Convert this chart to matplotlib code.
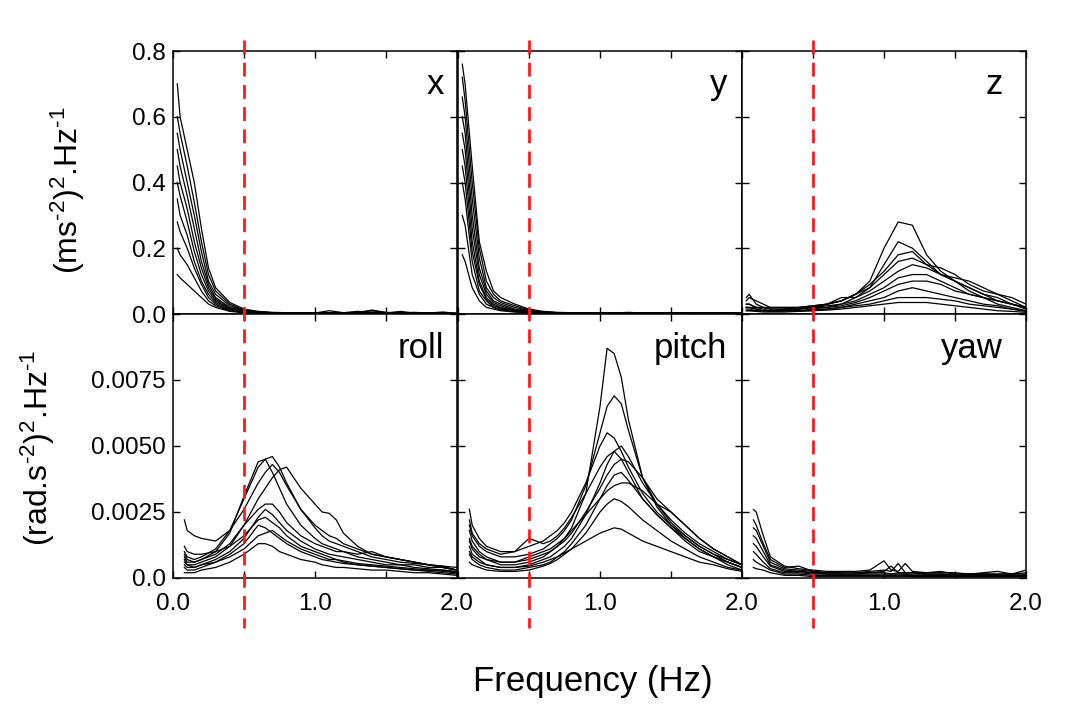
import matplotlib
matplotlib.use("Agg")
import matplotlib.pyplot as plt
from matplotlib import transforms
import numpy as np

plt.rcParams['font.family'] = ['Liberation Sans', 'DejaVu Sans']
plt.rcParams['mathtext.fontset'] = 'custom'
plt.rcParams['mathtext.rm'] = 'Liberation Sans'
plt.rcParams['mathtext.default'] = 'regular'

# frequency grids (Hz)
f_lin = [0.03, 0.05, 0.1, 0.15, 0.2, 0.25, 0.3, 0.4, 0.5, 0.6, 0.7, 0.8, 0.9, 1.0,
         1.1, 1.2, 1.3, 1.4, 1.5, 1.6, 1.7, 1.8, 1.9, 2.0]
f_rot = [0.08, 0.1, 0.15, 0.2, 0.3, 0.4, 0.5, 0.6, 0.65, 0.7, 0.75, 0.8, 0.9, 1.0,
         1.05, 1.1, 1.15, 1.2, 1.3, 1.4, 1.5, 1.6, 1.7, 1.8, 1.9, 2.0]

# linear PSD, (ms-2)^2/Hz
psd_x = [
    [0.70, 0.60, 0.50, 0.40, 0.26, 0.14, 0.08, 0.035, 0.015, 0.008, 0.005, 0.004, 0.004, 0.003, 0.004, 0.003, 0.006, 0.010, 0.004, 0.003, 0.005, 0.003, 0.004, 0.002],
    [0.60, 0.55, 0.45, 0.34, 0.22, 0.12, 0.07, 0.030, 0.012, 0.006, 0.004, 0.004, 0.003, 0.003, 0.010, 0.004, 0.003, 0.012, 0.005, 0.003, 0.004, 0.003, 0.002, 0.002],
    [0.55, 0.50, 0.40, 0.30, 0.19, 0.10, 0.06, 0.025, 0.010, 0.006, 0.004, 0.003, 0.003, 0.003, 0.003, 0.004, 0.008, 0.004, 0.003, 0.008, 0.003, 0.003, 0.006, 0.002],
    [0.50, 0.45, 0.36, 0.26, 0.16, 0.09, 0.05, 0.020, 0.010, 0.005, 0.004, 0.003, 0.003, 0.002, 0.003, 0.003, 0.004, 0.006, 0.003, 0.003, 0.002, 0.003, 0.002, 0.002],
    [0.45, 0.40, 0.32, 0.22, 0.14, 0.08, 0.045, 0.018, 0.008, 0.005, 0.003, 0.003, 0.002, 0.002, 0.002, 0.003, 0.003, 0.004, 0.003, 0.002, 0.002, 0.002, 0.002, 0.001],
    [0.40, 0.36, 0.28, 0.19, 0.12, 0.07, 0.04, 0.015, 0.008, 0.004, 0.003, 0.002, 0.002, 0.002, 0.002, 0.002, 0.003, 0.003, 0.002, 0.002, 0.002, 0.002, 0.001, 0.001],
    [0.35, 0.30, 0.24, 0.16, 0.10, 0.06, 0.035, 0.012, 0.006, 0.004, 0.003, 0.002, 0.002, 0.002, 0.002, 0.002, 0.002, 0.003, 0.002, 0.002, 0.002, 0.001, 0.001, 0.001],
    [0.28, 0.25, 0.20, 0.14, 0.09, 0.05, 0.03, 0.010, 0.005, 0.003, 0.002, 0.002, 0.002, 0.001, 0.002, 0.002, 0.002, 0.002, 0.002, 0.001, 0.001, 0.001, 0.001, 0.001],
    [0.20, 0.18, 0.15, 0.11, 0.07, 0.04, 0.025, 0.010, 0.005, 0.003, 0.002, 0.002, 0.001, 0.001, 0.001, 0.001, 0.002, 0.002, 0.001, 0.001, 0.001, 0.001, 0.001, 0.001],
    [0.12, 0.11, 0.09, 0.07, 0.05, 0.03, 0.02, 0.008, 0.004, 0.002, 0.002, 0.001, 0.001, 0.001, 0.001, 0.001, 0.001, 0.001, 0.001, 0.001, 0.001, 0.001, 0.001, 0.001],
]
psd_y = [
    [0.76, 0.70, 0.45, 0.22, 0.13, 0.07, 0.05, 0.030, 0.015, 0.008, 0.005, 0.004, 0.004, 0.003, 0.004, 0.003, 0.003, 0.004, 0.003, 0.003, 0.003, 0.003, 0.004, 0.003],
    [0.72, 0.65, 0.40, 0.20, 0.10, 0.06, 0.04, 0.025, 0.012, 0.006, 0.004, 0.004, 0.003, 0.003, 0.003, 0.005, 0.003, 0.003, 0.003, 0.004, 0.003, 0.003, 0.003, 0.003],
    [0.66, 0.60, 0.35, 0.17, 0.08, 0.05, 0.035, 0.020, 0.010, 0.006, 0.004, 0.003, 0.003, 0.003, 0.003, 0.003, 0.003, 0.003, 0.003, 0.003, 0.003, 0.003, 0.003, 0.002],
    [0.60, 0.55, 0.30, 0.14, 0.07, 0.04, 0.03, 0.015, 0.010, 0.005, 0.004, 0.003, 0.003, 0.002, 0.003, 0.002, 0.003, 0.002, 0.003, 0.002, 0.002, 0.002, 0.002, 0.002],
    [0.55, 0.50, 0.26, 0.12, 0.06, 0.035, 0.025, 0.012, 0.008, 0.005, 0.003, 0.003, 0.002, 0.002, 0.002, 0.002, 0.002, 0.002, 0.002, 0.002, 0.002, 0.002, 0.002, 0.002],
    [0.50, 0.45, 0.22, 0.10, 0.05, 0.03, 0.02, 0.010, 0.006, 0.004, 0.003, 0.002, 0.002, 0.002, 0.002, 0.002, 0.002, 0.002, 0.002, 0.002, 0.002, 0.002, 0.002, 0.002],
    [0.45, 0.40, 0.19, 0.09, 0.045, 0.025, 0.018, 0.010, 0.006, 0.004, 0.003, 0.002, 0.002, 0.002, 0.002, 0.002, 0.002, 0.002, 0.002, 0.002, 0.002, 0.002, 0.002, 0.001],
    [0.40, 0.35, 0.16, 0.07, 0.04, 0.02, 0.015, 0.008, 0.005, 0.003, 0.002, 0.002, 0.002, 0.001, 0.002, 0.001, 0.002, 0.001, 0.001, 0.001, 0.001, 0.001, 0.001, 0.001],
    [0.30, 0.27, 0.12, 0.06, 0.03, 0.02, 0.012, 0.007, 0.004, 0.003, 0.002, 0.002, 0.001, 0.001, 0.001, 0.001, 0.001, 0.001, 0.001, 0.001, 0.001, 0.001, 0.001, 0.001],
    [0.18, 0.16, 0.08, 0.04, 0.02, 0.015, 0.01, 0.006, 0.004, 0.002, 0.002, 0.001, 0.001, 0.001, 0.001, 0.001, 0.001, 0.001, 0.001, 0.001, 0.001, 0.001, 0.001, 0.001],
]
psd_z = [
    [0.03, 0.03, 0.02, 0.02, 0.015, 0.015, 0.015, 0.02, 0.025, 0.03, 0.04, 0.06, 0.10, 0.20, 0.28, 0.27, 0.18, 0.13, 0.10, 0.07, 0.05, 0.04, 0.03, 0.02],
    [0.05, 0.06, 0.03, 0.02, 0.02, 0.02, 0.02, 0.02, 0.02, 0.03, 0.05, 0.05, 0.08, 0.15, 0.22, 0.20, 0.16, 0.12, 0.11, 0.10, 0.08, 0.06, 0.04, 0.02],
    [0.02, 0.02, 0.02, 0.015, 0.01, 0.01, 0.015, 0.015, 0.02, 0.03, 0.04, 0.06, 0.09, 0.13, 0.18, 0.19, 0.15, 0.12, 0.10, 0.08, 0.06, 0.05, 0.03, 0.015],
    [0.04, 0.05, 0.04, 0.03, 0.02, 0.02, 0.02, 0.02, 0.025, 0.03, 0.04, 0.06, 0.08, 0.12, 0.16, 0.17, 0.15, 0.14, 0.12, 0.09, 0.07, 0.06, 0.05, 0.03],
    [0.02, 0.02, 0.015, 0.01, 0.01, 0.01, 0.01, 0.015, 0.02, 0.025, 0.03, 0.05, 0.07, 0.10, 0.13, 0.15, 0.14, 0.12, 0.10, 0.08, 0.06, 0.04, 0.03, 0.02],
    [0.03, 0.03, 0.02, 0.02, 0.015, 0.015, 0.015, 0.015, 0.02, 0.02, 0.03, 0.04, 0.06, 0.08, 0.11, 0.12, 0.12, 0.10, 0.08, 0.06, 0.05, 0.04, 0.03, 0.02],
    [0.02, 0.02, 0.015, 0.01, 0.01, 0.01, 0.01, 0.01, 0.015, 0.02, 0.025, 0.035, 0.05, 0.07, 0.09, 0.10, 0.10, 0.09, 0.07, 0.06, 0.05, 0.03, 0.02, 0.01],
    [0.01, 0.01, 0.01, 0.01, 0.008, 0.008, 0.01, 0.01, 0.012, 0.015, 0.02, 0.03, 0.04, 0.05, 0.07, 0.08, 0.07, 0.06, 0.05, 0.04, 0.03, 0.025, 0.015, 0.01],
    [0.015, 0.015, 0.01, 0.01, 0.01, 0.01, 0.01, 0.01, 0.01, 0.015, 0.02, 0.025, 0.03, 0.04, 0.05, 0.05, 0.05, 0.045, 0.04, 0.03, 0.025, 0.02, 0.015, 0.008],
    [0.01, 0.01, 0.008, 0.006, 0.006, 0.006, 0.006, 0.008, 0.01, 0.012, 0.015, 0.02, 0.025, 0.03, 0.035, 0.035, 0.035, 0.03, 0.025, 0.02, 0.015, 0.01, 0.008, 0.005],
]

# rotational PSD, in units of 1e-3 (rad.s-2)^2/Hz
psd_roll = [
    [1.0, 0.8, 0.7, 0.8, 1.1, 1.8, 3.0, 4.2, 4.5, 4.6, 4.2, 3.6, 2.6, 1.9, 1.6, 1.4, 1.3, 1.2, 1.0, 0.8, 0.7, 0.6, 0.55, 0.5, 0.4, 0.3],
    [0.8, 0.6, 0.6, 0.7, 1.0, 1.7, 3.1, 4.4, 4.5, 4.0, 3.4, 2.8, 2.0, 1.5, 1.3, 1.2, 1.1, 1.0, 0.8, 0.7, 0.6, 0.5, 0.5, 0.4, 0.4, 0.3],
    [0.6, 0.5, 0.5, 0.6, 0.8, 1.2, 2.0, 3.0, 3.4, 3.8, 4.1, 4.2, 3.4, 2.8, 2.5, 2.45, 2.2, 1.7, 1.2, 0.9, 0.8, 0.7, 0.6, 0.5, 0.4, 0.3],
    [2.2, 1.8, 1.6, 1.5, 1.4, 1.8, 2.6, 3.6, 4.0, 4.3, 4.0, 3.5, 2.6, 2.0, 1.8, 1.6, 1.5, 1.3, 1.1, 0.9, 0.8, 0.7, 0.6, 0.5, 0.45, 0.4],
    [0.7, 0.5, 0.4, 0.5, 0.7, 1.0, 1.5, 2.3, 2.6, 2.4, 2.1, 1.8, 1.4, 1.1, 1.0, 0.9, 0.85, 0.8, 0.7, 0.6, 0.5, 0.5, 0.4, 0.35, 0.3, 0.25],
    [1.2, 1.0, 0.9, 0.9, 1.0, 1.2, 1.6, 2.2, 2.3, 2.1, 1.9, 1.6, 1.2, 1.0, 0.9, 0.8, 0.7, 0.65, 0.55, 0.5, 0.45, 0.4, 0.35, 0.3, 0.3, 0.2],
    [0.4, 0.3, 0.3, 0.4, 0.6, 0.9, 1.3, 2.0, 1.9, 1.7, 1.5, 1.3, 1.0, 0.8, 0.7, 0.65, 0.6, 0.55, 0.5, 0.45, 0.4, 0.35, 0.3, 0.3, 0.25, 0.2],
    [0.5, 0.4, 0.4, 0.5, 0.6, 0.8, 1.1, 1.6, 1.7, 1.8, 1.6, 1.4, 1.1, 0.9, 0.8, 0.7, 0.7, 0.6, 0.5, 0.45, 0.4, 0.35, 0.3, 0.25, 0.2, 0.15],
    [0.2, 0.2, 0.2, 0.3, 0.4, 0.6, 0.9, 1.3, 1.3, 1.2, 1.0, 0.9, 0.7, 0.6, 0.5, 0.45, 0.4, 0.4, 0.35, 0.3, 0.3, 0.25, 0.2, 0.2, 0.15, 0.1],
    [0.9, 0.7, 0.6, 0.7, 0.9, 1.3, 2.0, 2.6, 2.8, 2.8, 2.5, 2.1, 1.6, 1.3, 1.2, 1.1, 1.0, 1.0, 0.9, 1.0, 0.8, 0.7, 0.6, 0.5, 0.45, 0.3],
]
psd_pitch = [
    [1.5, 1.2, 0.9, 0.7, 0.5, 0.5, 0.6, 0.8, 1.0, 1.2, 1.5, 1.9, 3.2, 6.5, 8.7, 8.5, 7.6, 6.0, 3.8, 2.7, 2.0, 1.5, 1.1, 0.8, 0.6, 0.4],
    [2.0, 1.6, 1.2, 1.0, 0.8, 0.8, 0.9, 1.1, 1.3, 1.5, 1.8, 2.2, 3.5, 5.5, 6.5, 6.9, 6.6, 5.6, 3.8, 2.8, 2.1, 1.6, 1.2, 0.9, 0.7, 0.5],
    [2.6, 2.0, 1.5, 1.2, 1.0, 1.0, 1.2, 1.4, 1.6, 1.8, 2.1, 2.5, 3.6, 5.0, 5.5, 5.3, 4.8, 4.2, 3.2, 2.5, 2.0, 1.6, 1.2, 0.9, 0.6, 0.4],
    [1.2, 0.9, 0.7, 0.5, 0.4, 0.4, 0.5, 0.7, 0.8, 1.0, 1.2, 1.5, 2.4, 3.6, 4.3, 4.8, 5.0, 4.6, 3.6, 2.8, 2.2, 1.7, 1.3, 1.0, 0.7, 0.5],
    [1.8, 1.4, 1.0, 0.8, 0.6, 0.6, 0.7, 0.9, 1.0, 1.2, 1.4, 1.7, 2.5, 3.4, 3.9, 4.3, 4.5, 4.4, 3.8, 3.0, 2.5, 2.0, 1.5, 1.1, 0.8, 0.5],
    [0.9, 0.7, 0.5, 0.4, 0.3, 0.3, 0.4, 0.5, 0.6, 0.8, 1.0, 1.3, 2.0, 3.0, 3.5, 3.9, 4.0, 3.7, 3.0, 2.4, 1.9, 1.5, 1.1, 0.8, 0.5, 0.3],
    [1.4, 1.1, 0.8, 0.7, 0.6, 0.6, 0.8, 1.0, 1.1, 1.3, 1.5, 1.8, 2.4, 3.0, 3.3, 3.5, 3.6, 3.6, 3.3, 2.8, 2.5, 2.0, 1.5, 1.1, 0.8, 0.5],
    [0.6, 0.5, 0.4, 0.3, 0.25, 0.25, 0.3, 0.45, 0.55, 0.7, 0.9, 1.1, 1.7, 2.5, 2.8, 3.0, 2.9, 2.7, 2.2, 1.8, 1.4, 1.1, 0.8, 0.6, 0.4, 0.3],
    [1.0, 0.8, 0.6, 0.5, 0.4, 0.4, 0.45, 0.6, 0.7, 0.8, 0.95, 1.1, 1.4, 1.7, 1.8, 1.9, 1.85, 1.7, 1.4, 1.2, 1.0, 0.8, 0.6, 0.5, 0.35, 0.25],
    [2.2, 1.7, 1.3, 1.1, 0.9, 1.0, 1.5, 1.3, 1.4, 1.6, 1.9, 2.3, 3.2, 4.2, 4.6, 4.8, 4.5, 4.0, 3.0, 2.4, 1.9, 1.4, 1.0, 0.8, 0.6, 0.4],
]
psd_yaw = [
    [2.6, 2.5, 1.6, 0.8, 0.45, 0.35, 0.30, 0.25, 0.25, 0.25, 0.25, 0.25, 0.30, 0.65, 0.30, 0.25, 0.55, 0.25, 0.20, 0.20, 0.20, 0.15, 0.20, 0.25, 0.15, 0.30],
    [2.2, 2.0, 1.3, 0.7, 0.40, 0.45, 0.25, 0.20, 0.20, 0.20, 0.20, 0.20, 0.25, 0.30, 0.25, 0.55, 0.20, 0.20, 0.20, 0.25, 0.15, 0.15, 0.15, 0.15, 0.15, 0.20],
    [1.9, 1.8, 1.2, 0.6, 0.35, 0.30, 0.25, 0.20, 0.20, 0.20, 0.25, 0.20, 0.20, 0.25, 0.45, 0.20, 0.20, 0.20, 0.15, 0.15, 0.15, 0.15, 0.15, 0.15, 0.15, 0.15],
    [1.6, 1.5, 1.0, 0.5, 0.30, 0.25, 0.20, 0.20, 0.15, 0.15, 0.15, 0.15, 0.20, 0.20, 0.15, 0.20, 0.15, 0.15, 0.15, 0.15, 0.10, 0.10, 0.15, 0.10, 0.10, 0.10],
    [1.3, 1.2, 0.8, 0.45, 0.25, 0.25, 0.20, 0.15, 0.15, 0.15, 0.15, 0.15, 0.15, 0.15, 0.15, 0.15, 0.15, 0.10, 0.10, 0.10, 0.10, 0.10, 0.10, 0.10, 0.10, 0.10],
    [1.0, 0.9, 0.6, 0.35, 0.20, 0.20, 0.15, 0.15, 0.10, 0.10, 0.10, 0.10, 0.10, 0.10, 0.10, 0.10, 0.10, 0.10, 0.10, 0.10, 0.10, 0.10, 0.10, 0.10, 0.10, 0.10],
    [0.7, 0.6, 0.45, 0.30, 0.15, 0.15, 0.10, 0.10, 0.10, 0.10, 0.10, 0.10, 0.10, 0.10, 0.10, 0.10, 0.10, 0.05, 0.05, 0.05, 0.05, 0.05, 0.05, 0.05, 0.05, 0.05],
    [0.4, 0.35, 0.30, 0.20, 0.10, 0.10, 0.05, 0.05, 0.05, 0.05, 0.05, 0.05, 0.05, 0.05, 0.05, 0.05, 0.05, 0.05, 0.05, 0.05, 0.05, 0.05, 0.05, 0.05, 0.05, 0.05],
]

top_names = ['x', 'y', 'z']
bottom_names = ['roll', 'pitch', 'yaw']
top_data = [psd_x, psd_y, psd_z]
bottom_data = [psd_roll, psd_pitch, psd_yaw]
name_xpos = [0.955, 0.948, 0.92]
cutoff = 0.5

W, H = 1071, 713
fig = plt.figure(figsize=(W / 100, H / 100), dpi=100)

lefts = [173, 458, 742]
pw = 284
axes_top = []
axes_bot = []
for i in range(3):
    at = fig.add_axes([lefts[i] / W, 1 - 314 / H, pw / W, 263 / H])
    ab = fig.add_axes([lefts[i] / W, 1 - 578 / H, pw / W, 264 / H])
    axes_top.append(at)
    axes_bot.append(ab)

for i in range(3):
    at = axes_top[i]
    for c in top_data[i]:
        at.plot(f_lin, c, color='black', lw=0.9)
    at.set_ylim(0, 0.8)
    at.set_yticks([0, 0.2, 0.4, 0.6, 0.8])
    at.set_yticklabels(['0.0', '0.2', '0.4', '0.6', '0.8'] if i == 0 else [])
    at.set_xticklabels([])

    ab = axes_bot[i]
    for c in bottom_data[i]:
        ab.plot(f_rot, np.array(c) * 1e-3, color='black', lw=0.9)
    ab.set_ylim(0, 0.01)
    ab.set_yticks([0, 0.0025, 0.005, 0.0075, 0.01])
    ab.set_yticklabels(['0.0', '0.0025', '0.0050', '0.0075', ''] if i == 0 else [])

    for ax, name in ((at, top_names[i]), (ab, bottom_names[i])):
        ax.set_xlim(0, 2)
        ax.set_xticks([0, 0.5, 1.0, 1.5, 2.0])
        ax.tick_params(direction='in', top=True, right=True, length=5, width=1,
                       labelsize=17.5, pad=5)
        ax.tick_params(axis='x', pad=11)
        for s in ax.spines.values():
            s.set_linewidth(1.1)
        ax.text(name_xpos[i], 0.835, name, transform=ax.transAxes, ha='right',
                va='baseline', fontsize=25)

    if i == 0:
        ab.set_xticklabels(['0.0', '', '1.0', '', '2.0'])
    else:
        ab.set_xticklabels(['', '', '1.0', '', '2.0'])

    # dashed cut-off line running across both rows
    tr = transforms.blended_transform_factory(at.transData, fig.transFigure)
    ln = plt.Line2D([cutoff, cutoff], [1 - 40 / H, 1 - 628 / H], transform=tr,
                    color='#ff1a1a', lw=2.0, dashes=(5, 3), clip_on=False)
    fig.add_artist(ln)

fig.text(68 / W, 1 - 190 / H, '(ms$^{\u20102}$)$^{2}$.Hz$^{\u20101}$', rotation=90,
         ha='center', va='center', fontsize=23)
fig.text(38 / W, 1 - 448 / H, '(rad.s$^{\u20102}$)$^{2}$.Hz$^{\u20101}$', rotation=90,
         ha='center', va='center', fontsize=23)
fig.text(593 / W, 1 - 682 / H, 'Frequency (Hz)', ha='center', va='center',
         fontsize=25)

fig.savefig('out.png', dpi=100)
